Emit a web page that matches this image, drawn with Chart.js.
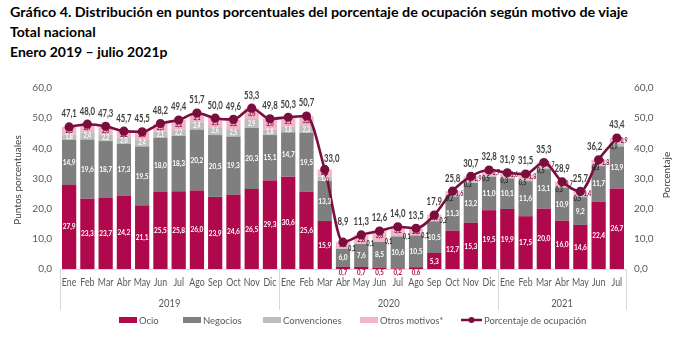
<!DOCTYPE html>
<html>
<head>
<meta charset="utf-8">
<script src="https://cdn.jsdelivr.net/npm/chart.js@4.4.0/dist/chart.umd.min.js"></script>
<style>
body{margin:0;background:#fff;width:687px;height:349px;overflow:hidden;position:relative;font-family:Lato,sans-serif}
#title{position:absolute;left:10px;top:2px;font-weight:bold;font-size:14px;line-height:20px;color:#000;white-space:nowrap}
#title div{transform-origin:0 0}
canvas{position:absolute;left:0;top:0}
</style>
</head>
<body>
<div id="title">
  <div id="t1">Gráfico 4. Distribución en puntos porcentuales del porcentaje de ocupación según motivo de viaje</div>
  <div>Total nacional</div>
  <div>Enero 2019 – julio 2021p</div>
</div>
<canvas id="chart" width="687" height="349"></canvas>
<script>
const months = ['Ene','Feb','Mar','Abr','May','Jun','Jul','Ago','Sep','Oct','Nov','Dic',
                'Ene','Feb','Mar','Abr','May','Jun','Jul','Ago','Sep','Oct','Nov','Dic',
                'Ene','Feb','Mar','Abr','May','Jun','Jul']
const years = ['2019','2020','2021']

const ocio = [27.9,23.3,23.7,24.2,21.1,25.5,25.8,26.0,23.9,24.6,26.5,29.3,
              30.6,25.6,15.9,0.7,0.7,0.5,0.2,0.6,5.3,12.7,15.3,19.5,
              19.9,17.5,20.0,16.0,14.6,22.4,26.7]
const negocios = [14.9,19.6,18.7,17.3,19.5,18.0,18.3,20.2,20.5,19.3,20.3,15.1,
                  14.7,19.5,13.3,6.0,7.6,8.5,10.6,10.5,10.5,11.3,13.2,11.0,
                  10.1,11.6,13.1,10.9,9.2,11.7,13.9]
const convenciones = [1.8,2.4,2.2,2.0,2.4,2.1,2.2,2.4,2.6,2.5,2.9,1.8,
                      1.8,2.3,1.4,0.1,0.1,0.1,0.1,0.1,0.2,0.2,0.3,0.5,
                      0.3,0.5,0.5,0.3,0.5,0.3,0.9]
const otros = [2.5,2.7,2.6,2.2,2.6,2.5,3.2,3.1,3.1,3.2,3.6,3.6,
               3.1,3.2,2.4,2.1,2.8,3.6,3.2,2.3,2.0,1.6,1.9,1.7,
               1.6,1.8,1.7,1.7,1.4,1.8,1.9]
const ocupacion = [47.1,48.0,47.3,45.7,45.5,48.2,49.4,51.7,50.0,49.6,53.3,49.8,
                   50.3,50.7,33.0,8.9,11.3,12.6,14.0,13.5,17.9,25.8,30.7,32.8,
                   31.9,31.5,35.3,28.9,25.7,36.2,43.4]
const yTicks = [0,10,20,30,40,50,60]

// fit the long title line to the width of the reference
const t1 = document.getElementById('t1')
const w = t1.getBoundingClientRect().width
t1.style.transform = 'scaleX(' + (618 / w) + ')'

const FONT = 'Lato, sans-serif'
const C_OCIO = '#B0084C', C_NEG = '#7F7F7F', C_CONV = '#BDBDBD', C_OTROS = '#F4B4C8', C_LINE = '#7A0E3E'
const fmt = v => v.toFixed(1).replace('.', ',')

// condensed text: Lato squeezed horizontally, like the narrow labels of the original
function txt(ctx, s, x, y, font, color, sx) {
  ctx.save()
  ctx.font = font
  ctx.fillStyle = color
  ctx.translate(x, y)
  ctx.scale(sx || 0.82, 1)
  ctx.fillText(s, 0, 0)
  ctx.restore()
}

const labelsPlugin = {
  id: 'labels',
  afterDatasetsDraw(chart) {
    const ctx = chart.ctx
    ctx.save()
    ctx.textAlign = 'center'
    ctx.textBaseline = 'middle'
    const mid = el => (el.y + el.base) / 2
    // ocio
    chart.getDatasetMeta(0).data.forEach((el, i) => {
      if (ocio[i] < 1) txt(ctx, fmt(ocio[i]), el.x, 273, 'bold 7.5px ' + FONT, C_OCIO)
      else txt(ctx, fmt(ocio[i]), el.x, mid(el), 'bold 8px ' + FONT, '#fff')
    })
    // negocios
    chart.getDatasetMeta(1).data.forEach((el, i) => {
      txt(ctx, fmt(negocios[i]), el.x, mid(el), 'bold 8px ' + FONT, '#fff')
    })
    // convenciones
    chart.getDatasetMeta(2).data.forEach((el, i) => {
      const v = convenciones[i]
      const f = 'bold 6.5px ' + FONT
      if (v >= 1) txt(ctx, fmt(v), el.x, mid(el), f, '#fff')
      else if (i >= 15 && i <= 20) txt(ctx, fmt(v), el.x + 9, el.base, f, '#262626')
      else txt(ctx, fmt(v), el.x - 3, el.y + 3, f, '#262626')
    })
    // otros
    chart.getDatasetMeta(3).data.forEach((el, i) => {
      const f = 'bold 6.5px ' + FONT
      if (i >= 21) txt(ctx, fmt(otros[i]), el.x + 7, mid(el), f, C_LINE)
      else txt(ctx, fmt(otros[i]), el.x, mid(el), f, C_LINE)
    })
    // ocupacion
    chart.getDatasetMeta(4).data.forEach((el, i) => {
      let dx = 0, dy = -13
      if (i === 14) { dx = 7; dy = -11 }
      if (i === 15) dy = -21
      if (i === 29) dx = -4
      txt(ctx, fmt(ocupacion[i]), el.x + dx, el.y + dy, 'bold 10.5px ' + FONT, '#404040', 0.74)
    })
    ctx.restore()
  },
  afterDraw(chart) {
    const ctx = chart.ctx
    const area = chart.chartArea
    const x = chart.scales.x
    ctx.save()
    ctx.textAlign = 'center'
    ctx.textBaseline = 'middle'
    // month labels, from the category scale
    months.forEach((m, i) => {
      txt(ctx, m, x.getPixelForValue(i), 283, '10.5px ' + FONT, '#595959', 0.84)
    })
    // year separators and labels
    ctx.strokeStyle = '#D9D9D9'
    ctx.lineWidth = 1
    const step = (area.right - area.left) / months.length
    for (let k = 0; k <= 24; k += 12) {
      const px = Math.round(area.left + k * step) + 0.5
      ctx.beginPath(); ctx.moveTo(px, area.bottom); ctx.lineTo(px, 310); ctx.stroke()
    }
    const px = Math.round(area.right) + 0.5
    ctx.beginPath(); ctx.moveTo(px, area.bottom); ctx.lineTo(px, 310); ctx.stroke()
    years.forEach((y, k) => {
      const a = k * 12, b = Math.min(a + 12, months.length)
      txt(ctx, y, (x.getPixelForValue(a) + x.getPixelForValue(b - 1)) / 2, 304, '10.5px ' + FONT, '#595959', 0.9)
    })
    // axis titles
    ctx.fillStyle = '#404040'
    ctx.font = '10px ' + FONT
    ctx.save(); ctx.translate(18, 180); ctx.rotate(-Math.PI / 2); ctx.fillText('Puntos porcentuales', 0, 0); ctx.restore()
    ctx.save(); ctx.translate(667, 175); ctx.rotate(-Math.PI / 2); ctx.fillText('Porcentaje', 0, 0); ctx.restore()
    // legend
    const items = [
      { t: 'Ocio', c: C_OCIO, x: 119 },
      { t: 'Negocios', c: C_NEG, x: 183 },
      { t: 'Convenciones', c: C_CONV, x: 263 },
      { t: 'Otros motivos*', c: C_OTROS, x: 360 }
    ]
    ctx.font = '9.5px ' + FONT
    ctx.textAlign = 'left'
    items.forEach(it => {
      ctx.fillStyle = it.c
      ctx.fillRect(it.x, 317, 18, 6)
      ctx.fillStyle = '#595959'
      ctx.fillText(it.t, it.x + 20, 321)
    })
    ctx.strokeStyle = C_LINE
    ctx.lineWidth = 2.5
    ctx.beginPath(); ctx.moveTo(461, 320); ctx.lineTo(482, 320); ctx.stroke()
    ctx.fillStyle = C_LINE
    ctx.beginPath(); ctx.arc(471.5, 320, 3, 0, Math.PI * 2); ctx.fill()
    ctx.fillStyle = '#595959'
    ctx.fillText('Porcentaje de ocupación', 484, 321)
    ctx.restore()
  }
}

const tickCb = v => fmt(v)

new Chart(document.getElementById('chart'), {
  data: {
    labels: months,
    datasets: [
      { type: 'bar', label: 'Ocio', data: ocio, backgroundColor: C_OCIO, order: 2 },
      { type: 'bar', label: 'Negocios', data: negocios, backgroundColor: C_NEG, order: 2 },
      { type: 'bar', label: 'Convenciones', data: convenciones, backgroundColor: C_CONV, order: 2 },
      { type: 'bar', label: 'Otros motivos*', data: otros, backgroundColor: C_OTROS, order: 2 },
      { type: 'line', label: 'Porcentaje de ocupación', data: ocupacion, yAxisID: 'y2',
        borderColor: C_LINE, backgroundColor: C_LINE, borderWidth: 2.6, pointRadius: 3.3,
        pointHoverRadius: 3.3, cubicInterpolationMode: 'monotone', order: 1 }
    ]
  },
  options: {
    responsive: false,
    devicePixelRatio: 1,
    animation: false,
    layout: { padding: { top: 88 } },
    datasets: { bar: { categoryPercentage: 1, barPercentage: 0.78 } },
    plugins: { legend: { display: false }, tooltip: { enabled: false } },
    scales: {
      x: {
        stacked: true,
        grid: { display: false, drawTicks: false },
        border: { color: '#D9D9D9' },
        ticks: { display: false },
        afterFit: s => { s.height = 80 }
      },
      y: {
        stacked: true, min: 0, max: 60,
        afterBuildTicks: s => { s.ticks = yTicks.map(v => ({ value: v })) },
        grid: { display: false, drawTicks: false },
        border: { display: false },
        ticks: { color: '#595959', font: { family: FONT, size: 10 }, padding: 8, callback: tickCb },
        afterFit: s => { s.width = 60 }
      },
      y2: {
        position: 'right', min: 0, max: 60,
        afterBuildTicks: s => { s.ticks = yTicks.map(v => ({ value: v })) },
        grid: { display: false, drawTicks: false },
        border: { display: false },
        ticks: { color: '#595959', font: { family: FONT, size: 10 }, padding: 8, callback: tickCb },
        afterFit: s => { s.width = 61 }
      }
    }
  },
  plugins: [labelsPlugin]
})
</script>
</body>
</html>
